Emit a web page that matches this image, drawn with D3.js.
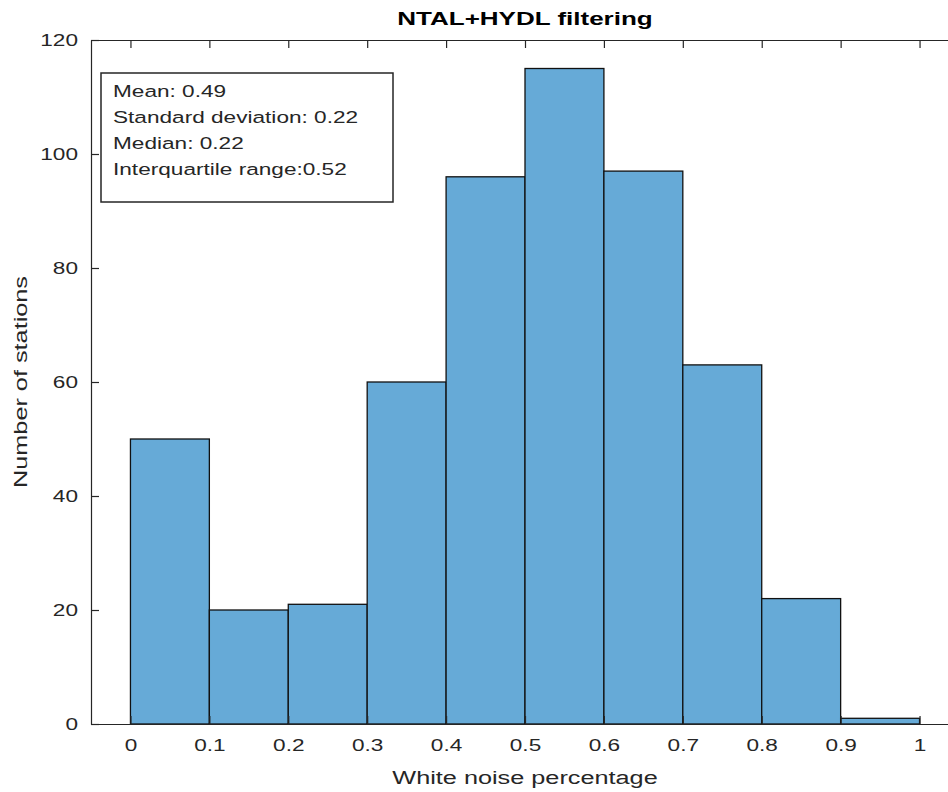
<!DOCTYPE html>
<html>
<head>
<meta charset="utf-8">
<script src="https://cdn.jsdelivr.net/npm/d3@7"></script>
<style>
  body { margin: 0; background: #fff; }
  text { font-family: "Liberation Sans", Arial, sans-serif; fill: #262626; }
</style>
</head>
<body>
<div id="chart"></div>
<script>
// histogram bins (left edges) and counts
var binEdges = [0, 0.1, 0.2, 0.3, 0.4, 0.5, 0.6, 0.7, 0.8, 0.9, 1.0];
var counts = [50, 20, 21, 60, 96, 115, 97, 63, 22, 1];
var xTicks = [0, 0.1, 0.2, 0.3, 0.4, 0.5, 0.6, 0.7, 0.8, 0.9, 1];
var yTicks = [0, 20, 40, 60, 80, 100, 120];
var statsLines = ["Mean: 0.49", "Standard deviation: 0.22", "Median: 0.22", "Interquartile range:0.52"];

var width = 948, height = 792;
var margin = { top: 40, left: 91 };
var plotW = 868, plotH = 684;
var stretch = 1.33; // matlab text renders wide

var svg = d3.select("#chart").append("svg")
    .attr("width", width)
    .attr("height", height);

var g = svg.append("g")
    .attr("transform", "translate(" + margin.left + "," + margin.top + ")");

var x = d3.scaleLinear().domain([-0.05, 1.05]).range([0, plotW]);
var y = d3.scaleLinear().domain([0, 120]).range([plotH, 0]);

var bins = counts.map(function(c, i) {
    return { x0: binEdges[i], x1: binEdges[i + 1], n: c };
});

// bars
g.selectAll("rect.bar").data(bins)
    .enter().append("rect")
    .attr("class", "bar")
    .attr("x", function(d) { return x(d.x0); })
    .attr("y", function(d) { return y(d.n); })
    .attr("width", function(d) { return x(d.x1) - x(d.x0); })
    .attr("height", function(d) { return y(0) - y(d.n); })
    .style("fill", "#66aad7")
    .style("stroke", "#111")
    .style("stroke-width", 1.3);

// axes, ticks point inward like matlab
var axisColor = "#262626";
var tl = 8;

var xb = g.append("g").attr("transform", "translate(0," + plotH + ")")
    .call(d3.axisBottom(x).tickValues(xTicks).tickSizeInner(-tl).tickSizeOuter(0)
        .tickPadding(15).tickFormat(function(d) { return d3.format("")(d); }));
var xt = g.append("g")
    .call(d3.axisTop(x).tickValues(xTicks).tickSizeInner(-tl).tickSizeOuter(0).tickFormat(""));
var yl = g.append("g")
    .call(d3.axisLeft(y).tickValues(yTicks).tickSizeInner(-tl).tickSizeOuter(0));

[xb, xt, yl].forEach(function(a) {
    a.select(".domain").attr("stroke", axisColor).attr("stroke-width", 1.2);
    a.selectAll(".tick line").attr("stroke", axisColor).attr("stroke-width", 1.2);
    a.selectAll(".tick text")
        .style("font-family", '"Liberation Sans", Arial, sans-serif')
        .style("font-size", "17px")
        .attr("fill", "#262626");
});
xb.selectAll(".tick text").attr("dy", "0.71em")
    .attr("transform", "scale(" + stretch + ",1)");
yl.selectAll(".tick text").attr("x", 0)
    .attr("transform", "translate(-13,0) scale(" + stretch + ",1)");

// stats box
var box = g.append("g").attr("transform", "translate(" + (101 - margin.left) + "," + (73 - margin.top) + ")");
box.append("rect")
    .attr("width", 292).attr("height", 129)
    .style("fill", "#fff")
    .style("stroke", "#262626")
    .style("stroke-width", 1.5);
box.selectAll("text").data(statsLines)
    .enter().append("text")
    .attr("transform", function(d, i) {
        return "translate(12," + (24 + i * 26) + ") scale(" + stretch + ",1)";
    })
    .style("font-size", "17px")
    .text(function(d) { return d; });

// title and labels
svg.append("text")
    .attr("transform", "translate(" + (margin.left + plotW / 2) + ",25) scale(1.37,1)")
    .attr("text-anchor", "middle")
    .style("font-size", "19px")
    .style("font-weight", "bold")
    .style("fill", "#000")
    .text("NTAL+HYDL filtering");

svg.append("text")
    .attr("transform", "translate(" + (margin.left + plotW / 2) + ",784) scale(" + stretch + ",1)")
    .attr("text-anchor", "middle")
    .style("font-size", "19px")
    .text("White noise percentage");

svg.append("text")
    .attr("transform", "translate(27," + (margin.top + plotH / 2) + ") rotate(-90) scale(" + stretch + ",1)")
    .attr("text-anchor", "middle")
    .style("font-size", "19px")
    .text("Number of stations");
</script>
</body>
</html>
